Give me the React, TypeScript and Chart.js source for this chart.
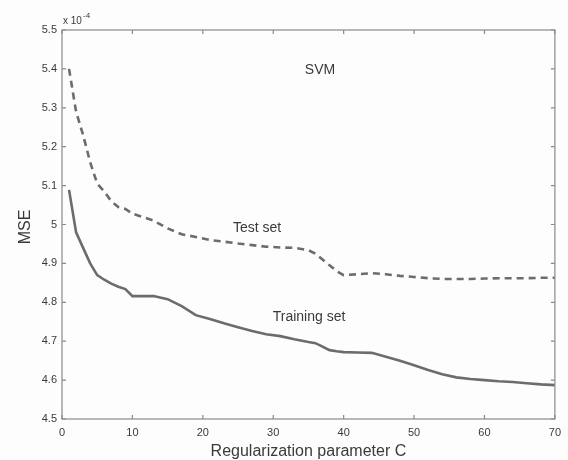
import React, { useEffect, useRef } from "react";
import { Chart, registerables } from "chart.js";

Chart.register(...registerables);

const cValues = [1, 2, 3, 4, 5, 6, 7, 8, 9, 10, 11, 13, 15, 17, 19, 21, 23, 25, 27, 29, 31, 33, 35, 36, 37, 38, 39, 40, 42, 44, 46, 48, 50, 52, 54, 56, 58, 60, 62, 64, 66, 68, 70];

const testValues = [5.40, 5.29, 5.23, 5.16, 5.105, 5.085, 5.06, 5.045, 5.04, 5.028, 5.022, 5.01, 4.99, 4.975, 4.968, 4.96, 4.956, 4.951, 4.947, 4.943, 4.941, 4.94, 4.934, 4.925, 4.91, 4.895, 4.88, 4.87, 4.872, 4.875, 4.872, 4.868, 4.865, 4.862, 4.86, 4.86, 4.86, 4.861, 4.862, 4.862, 4.862, 4.863, 4.863];

const trainValues = [5.089, 4.98, 4.94, 4.90, 4.87, 4.858, 4.848, 4.84, 4.834, 4.816, 4.816, 4.816, 4.808, 4.79, 4.767, 4.757, 4.746, 4.736, 4.726, 4.718, 4.713, 4.705, 4.698, 4.695, 4.686, 4.677, 4.674, 4.672, 4.671, 4.67, 4.66, 4.65, 4.638, 4.626, 4.615, 4.607, 4.603, 4.600, 4.597, 4.595, 4.592, 4.589, 4.587];

const xTicks = [0, 10, 20, 30, 40, 50, 60, 70];
const yTicks = [4.5, 4.6, 4.7, 4.8, 4.9, 5.0, 5.1, 5.2, 5.3, 5.4, 5.5];

const titleText = "SVM";
const testLabel = "Test set";
const trainLabel = "Training set";
const xTitle = "Regularization parameter C";
const yTitle = "MSE";

const FONT = "'Liberation Sans', Arial, Helvetica, sans-serif";
const TEXT = "#3a3a3a";
const AXIS = "#8a8a8a";
const LINE = "#6c6c6c";

const decorPlugin = {
  id: "decor",
  beforeDraw(chart: any) {
    const ctx = chart.ctx;
    ctx.save();
    ctx.fillStyle = "#fdfdfd";
    ctx.fillRect(0, 0, chart.width, chart.height);
    ctx.restore();
  },
  afterDraw(chart: any) {
    const ctx = chart.ctx;
    const a = chart.chartArea;
    const xs = chart.scales.x;
    const ys = chart.scales.y;
    ctx.save();
    ctx.strokeStyle = AXIS;
    ctx.lineWidth = 1.2;
    ctx.strokeRect(a.left, a.top, a.right - a.left, a.bottom - a.top);
    const tl = 4;
    ctx.beginPath();
    xTicks.forEach((t) => {
      const px = xs.getPixelForValue(t);
      ctx.moveTo(px, a.bottom);
      ctx.lineTo(px, a.bottom - tl);
      ctx.moveTo(px, a.top);
      ctx.lineTo(px, a.top + tl);
    });
    yTicks.forEach((t) => {
      const py = ys.getPixelForValue(t);
      ctx.moveTo(a.left, py);
      ctx.lineTo(a.left + tl, py);
      ctx.moveTo(a.right, py);
      ctx.lineTo(a.right - tl, py);
    });
    ctx.stroke();

    ctx.fillStyle = TEXT;
    ctx.textAlign = "center";
    ctx.textBaseline = "middle";
    ctx.font = `14px ${FONT}`;
    ctx.fillText(titleText, 320, 70);
    ctx.fillText(testLabel, 257, 228);
    ctx.fillText(trainLabel, 309, 317);
    ctx.font = `16px ${FONT}`;
    ctx.fillText(xTitle, (a.left + a.right) / 2, 452);

    ctx.save();
    ctx.translate(26, 227);
    ctx.rotate(-Math.PI / 2);
    ctx.fillText(yTitle, 0, 0);
    ctx.restore();

    ctx.textAlign = "left";
    ctx.font = `10px ${FONT}`;
    ctx.fillText("x 10", a.left + 1, 21);
    ctx.font = `8px ${FONT}`;
    ctx.fillText("-4", a.left + 21, 16);
    ctx.restore();
  },
};

export default function App() {
  const ref = useRef<HTMLCanvasElement | null>(null);
  useEffect(() => {
    if (!ref.current) return;
    const chart = new Chart(ref.current, {
      type: "line",
      data: {
        datasets: [
          {
            label: testLabel,
            data: cValues.map((c, i) => ({ x: c, y: testValues[i] })),
            borderColor: LINE,
            borderWidth: 2.6,
            borderDash: [7, 5],
            pointRadius: 0,
            tension: 0,
            fill: false,
          },
          {
            label: trainLabel,
            data: cValues.map((c, i) => ({ x: c, y: trainValues[i] })),
            borderColor: LINE,
            borderWidth: 2.6,
            pointRadius: 0,
            tension: 0,
            fill: false,
          },
        ],
      },
      options: {
        animation: false,
        responsive: false,
        maintainAspectRatio: false,
        layout: { padding: { top: 30, right: 12, left: 0, bottom: 0 } },
        plugins: { legend: { display: false }, tooltip: { enabled: false } },
        scales: {
          x: {
            type: "linear",
            min: 0,
            max: 70,
            afterBuildTicks: (s: any) => {
              s.ticks = xTicks.map((v) => ({ value: v }));
            },
            afterFit: (s: any) => {
              s.height = 41;
            },
            grid: { display: false, drawTicks: false },
            border: { display: false },
            ticks: {
              color: TEXT,
              font: { size: 11, family: FONT },
              padding: 7,
              maxRotation: 0,
            },
          },
          y: {
            type: "linear",
            min: 4.5,
            max: 5.5,
            afterBuildTicks: (s: any) => {
              s.ticks = yTicks.map((v) => ({ value: v }));
            },
            afterFit: (s: any) => {
              s.width = 62;
            },
            grid: { display: false, drawTicks: false },
            border: { display: false },
            ticks: {
              color: TEXT,
              font: { size: 11, family: FONT },
              padding: 5,
              callback: (v: any) => String(Number(Number(v).toFixed(1))),
            },
          },
        },
      },
      plugins: [decorPlugin],
    });
    return () => chart.destroy();
  }, []);
  return (
    <div style={{ position: "fixed", left: 0, top: 0, width: 568, height: 460 }}>
      <canvas ref={ref} width={568} height={460} style={{ width: 568, height: 460, display: "block" }} />
    </div>
  );
}
